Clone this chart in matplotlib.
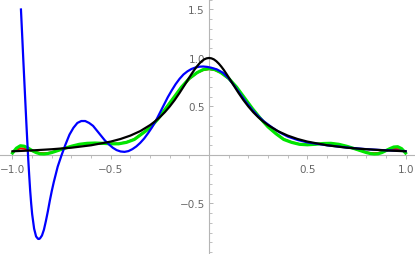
import matplotlib
matplotlib.use("Agg")
import matplotlib.pyplot as plt
from matplotlib.ticker import MultipleLocator, FixedLocator

# ---- data ----
black_x = [-1.0, -0.9, -0.8, -0.7, -0.6, -0.5, -0.45, -0.4, -0.35, -0.3, -0.275, -0.25, -0.225, -0.2,
           -0.175, -0.15, -0.125, -0.1, -0.0875, -0.075, -0.0625, -0.05, -0.0375, -0.025, -0.0125, 0.0,
           0.0125, 0.025, 0.0375, 0.05, 0.0625, 0.075, 0.0875, 0.1, 0.125, 0.15, 0.175, 0.2, 0.225,
           0.25, 0.275, 0.3, 0.35, 0.4, 0.45, 0.5, 0.6, 0.7, 0.8, 0.9, 1.0]
black_y = [0.038, 0.047, 0.059, 0.075, 0.100, 0.138, 0.165, 0.200, 0.246, 0.308, 0.346, 0.390, 0.441, 0.500,
           0.566, 0.640, 0.719, 0.800, 0.839, 0.877, 0.911, 0.941, 0.966, 0.985, 0.996, 1.000,
           0.996, 0.985, 0.966, 0.941, 0.911, 0.877, 0.839, 0.800, 0.719, 0.640, 0.566, 0.500, 0.441,
           0.390, 0.346, 0.308, 0.246, 0.200, 0.165, 0.138, 0.100, 0.075, 0.059, 0.047, 0.038]

green_x = [-1.0, -0.98, -0.96, -0.94, -0.92, -0.9, -0.88, -0.86, -0.84, -0.82, -0.8, -0.77, -0.74, -0.7,
           -0.66, -0.62, -0.58, -0.54, -0.5, -0.46, -0.42, -0.38, -0.34, -0.3, -0.26, -0.22, -0.18,
           -0.14, -0.1, -0.06, -0.03, 0.0, 0.03, 0.06, 0.1, 0.14, 0.18, 0.22, 0.26, 0.3, 0.34, 0.38,
           0.42, 0.46, 0.5, 0.54, 0.58, 0.62, 0.66, 0.7, 0.74, 0.77, 0.8, 0.82, 0.84, 0.86, 0.88, 0.9,
           0.92, 0.94, 0.96, 0.98, 1.0]
green_y = [0.02, 0.07, 0.095, 0.09, 0.07, 0.045, 0.025, 0.012, 0.01, 0.015, 0.025, 0.045, 0.065, 0.09,
           0.11, 0.12, 0.123, 0.12, 0.115, 0.115, 0.13, 0.16, 0.22, 0.28, 0.37, 0.48, 0.59,
           0.70, 0.79, 0.85, 0.88, 0.89, 0.88, 0.85, 0.79, 0.70, 0.59, 0.48, 0.38, 0.29, 0.22, 0.16,
           0.13, 0.11, 0.105, 0.11, 0.118, 0.12, 0.11, 0.09, 0.065, 0.045, 0.025, 0.015, 0.01, 0.012, 0.025, 0.045,
           0.065, 0.082, 0.085, 0.065, 0.02]

red_x = green_x
red_y = [0.03, 0.055, 0.068, 0.065, 0.055, 0.042, 0.03, 0.02, 0.018, 0.02, 0.028, 0.045, 0.065, 0.088,
         0.108, 0.118, 0.121, 0.119, 0.116, 0.117, 0.132, 0.163, 0.222, 0.285, 0.372, 0.48, 0.588,
         0.695, 0.785, 0.848, 0.875, 0.885, 0.875, 0.848, 0.785, 0.695, 0.588, 0.48, 0.38, 0.292, 0.222, 0.163,
         0.132, 0.112, 0.108, 0.112, 0.118, 0.119, 0.108, 0.088, 0.065, 0.045, 0.028, 0.02, 0.018, 0.02, 0.03, 0.042,
         0.055, 0.062, 0.06, 0.05, 0.03]

blue_x = [-0.957, -0.95, -0.945, -0.94, -0.935, -0.93, -0.925, -0.92, -0.915, -0.91, -0.905, -0.9,
          -0.89, -0.88, -0.87, -0.865, -0.86, -0.85, -0.84, -0.83, -0.82, -0.81, -0.8, -0.79, -0.77,
          -0.75, -0.73, -0.71, -0.69, -0.67, -0.65, -0.63, -0.61, -0.59, -0.57, -0.55, -0.53, -0.51,
          -0.49, -0.47, -0.45, -0.43, -0.41, -0.39, -0.37, -0.35, -0.33, -0.31, -0.29, -0.27, -0.25,
          -0.23, -0.21, -0.19, -0.17, -0.15, -0.13, -0.11, -0.09, -0.07, -0.05, -0.03, -0.01, 0.01,
          0.04, 0.07, 0.10, 0.13, 0.16, 0.19, 0.22, 0.25, 0.28, 0.32, 0.36, 0.40, 0.45, 0.5, 0.55,
          0.6, 0.7, 0.8, 0.9, 1.0]
blue_y = [1.50, 1.20, 0.98, 0.77, 0.56, 0.35, 0.15, -0.04, -0.21, -0.37, -0.50, -0.61,
          -0.76, -0.84, -0.865, -0.866, -0.86, -0.83, -0.77, -0.68, -0.58, -0.47, -0.37, -0.28, -0.12,
          0.0, 0.11, 0.21, 0.28, 0.33, 0.35, 0.35, 0.33, 0.30, 0.25, 0.20, 0.15, 0.11,
          0.075, 0.05, 0.036, 0.032, 0.04, 0.06, 0.088, 0.125, 0.17, 0.225, 0.285, 0.355, 0.435,
          0.515, 0.595, 0.665, 0.73, 0.785, 0.83, 0.862, 0.886, 0.901, 0.91, 0.912, 0.908, 0.90,
          0.882, 0.848, 0.79, 0.71, 0.625, 0.54, 0.465, 0.40, 0.345, 0.285, 0.232, 0.19, 0.155, 0.13, 0.115,
          0.10, 0.077, 0.06, 0.048, 0.04]

x_ticks = [-1.0, -0.5, 0.5, 1.0]
x_tick_labels = ["\u22121.0", "\u22120.5", "0.5", "1.0"]
y_ticks = [-0.5, 0.5, 1.0, 1.5]
y_tick_labels = ["\u22120.5", "0.5", "1.0", "1.5"]

# ---- figure ----
fig = plt.figure(figsize=(4.15, 2.55), dpi=100)
ax = fig.add_axes([0, 0, 1, 1])
ax.set_xlim(-1.0636, 1.048)
ax.set_ylim(-1.021, 1.608)

ax.plot(red_x, red_y, color=(1, 0, 0), lw=1.5, zorder=2)
ax.plot(green_x, green_y, color=(0.0, 0.9, 0.0), lw=2.3, zorder=3)
ax.plot(blue_x, blue_y, color=(0, 0, 1), lw=1.6, zorder=4)
ax.plot(black_x, black_y, color="black", lw=1.6, zorder=5)

axcol = "#b5b5b5"
for s in ["top", "right"]:
    ax.spines[s].set_visible(False)
ax.spines["left"].set_position(("data", 0))
ax.spines["bottom"].set_position(("data", 0))
ax.spines["left"].set_color(axcol)
ax.spines["bottom"].set_color(axcol)
ax.spines["left"].set_linewidth(0.8)
ax.spines["bottom"].set_linewidth(0.8)
ax.set_facecolor("none")

ax.xaxis.set_major_locator(FixedLocator(x_ticks))
ax.set_xticklabels(x_tick_labels)
ax.xaxis.set_minor_locator(MultipleLocator(0.1))
ax.yaxis.set_major_locator(FixedLocator(y_ticks))
ax.set_yticklabels(y_tick_labels)
ax.yaxis.set_minor_locator(MultipleLocator(0.1))

ax.tick_params(axis="x", which="major", direction="out", length=3.2, width=0.7, color=axcol,
               labelsize=7.5, labelcolor="#666666", pad=3)
ax.tick_params(axis="x", which="minor", direction="out", length=2.0, width=0.6, color=axcol)
ax.tick_params(axis="y", which="major", direction="in", length=3.2, width=0.7, color=axcol,
               labelsize=7.5, labelcolor="#666666", pad=3)
ax.tick_params(axis="y", which="minor", direction="in", length=2.0, width=0.6, color=axcol)

fig.savefig("out.png", dpi=100)
